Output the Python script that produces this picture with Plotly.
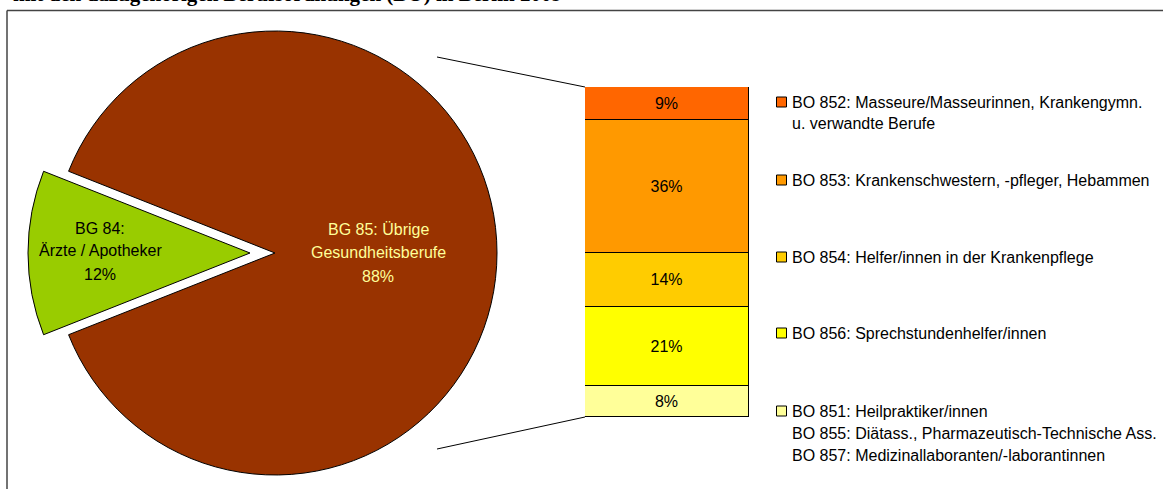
import plotly.graph_objects as go

W, H = 1163, 489

# ---- data ----
pie_labels = ["BG 84: Ärzte / Apotheker", "BG 85: Übrige Gesundheitsberufe"]
pie_values = [12, 88]
pie_colors = ["#99CC00", "#993300"]

bar_labels = ["BO 851/855/857", "BO 856", "BO 854", "BO 853", "BO 852"]  # bottom -> top
bar_values = [8.3, 21.1, 14.3, 35.6, 8.7]
bar_colors = ["#FFFF99", "#FFFF00", "#FFCC00", "#FF9900", "#FF6600"]

legend_texts = [  # top -> bottom
    ["BO 852: Masseure/Masseurinnen, Krankengymn.", "u. verwandte Berufe"],
    ["BO 853: Krankenschwestern, -pfleger, Hebammen"],
    ["BO 854: Helfer/innen in der Krankenpflege"],
    ["BO 856: Sprechstundenhelfer/innen"],
    ["BO 851: Heilpraktiker/innen", "BO 855: Diätass., Pharmazeutisch-Technische Ass.",
     "BO 857: Medizinallaboranten/-laborantinnen"],
]
legend_colors = ["#FF6600", "#FF9900", "#FFCC00", "#FFFF00", "#FFFF99"]

title_text = "mit den dazugehörigen Berufsordnungen (BO) in Berlin 2009"
green_label = ["BG 84:", "Ärzte / Apotheker", "12%"]
brown_label = ["BG 85: Übrige", "Gesundheitsberufe", "88%"]


def px(x):
    return x / W


def py(y):
    return 1 - y / H


FONT = "Liberation Sans, Arial, sans-serif"
fig = go.Figure()

# pie geometry (pixels)
R = 222
CX, CY = 275, 253
PULL_PX = 25
TR = "rgba(0,0,0,0)"

# main (brown) slice
fig.add_trace(go.Pie(
    labels=pie_labels, values=pie_values, sort=False, direction="clockwise",
    rotation=270 - pie_values[0] / sum(pie_values) * 180,
    marker=dict(colors=[TR, pie_colors[1]], line=dict(color=[TR, "#000000"], width=1)),
    textinfo="none", hoverinfo="skip", showlegend=False,
    domain=dict(x=[px(CX - R), px(CX + R)], y=[py(CY + R), py(CY - R)]),
))
# exploded (green) slice
fig.add_trace(go.Pie(
    labels=pie_labels, values=pie_values, sort=False, direction="clockwise",
    rotation=270 - pie_values[0] / sum(pie_values) * 180,
    marker=dict(colors=[pie_colors[0], TR], line=dict(color=["#000000", TR], width=1)),
    textinfo="none", hoverinfo="skip", showlegend=False,
    domain=dict(x=[px(CX - PULL_PX - R), px(CX - PULL_PX + R)], y=[py(CY + R), py(CY - R)]),
))

# stacked bar
for lab, val, col in zip(bar_labels, bar_values, bar_colors):
    fig.add_trace(go.Bar(
        x=[0], y=[val], name=lab, width=1,
        marker=dict(color=col, line=dict(color="#000000", width=1)),
        texttemplate="%{y:.0f}%", textposition="inside", insidetextanchor="middle",
        textangle=0, textfont=dict(family=FONT, size=16, color="#000000"),
        hoverinfo="skip", showlegend=False,
    ))

BAR_X0, BAR_X1, BAR_Y0, BAR_Y1 = 585, 749, 87, 417

shapes = []
# white cover strip at the right page edge
shapes.append(dict(type="rect", xref="paper", yref="paper",
                   x0=px(W - 10), x1=px(W + 10), y0=py(H + 10), y1=py(12),
                   fillcolor="#FFFFFF", line=dict(width=0), layer="above"))
# frame (top and left edges visible; the rest lies outside the page)
shapes.append(dict(type="line", xref="paper", yref="paper",
                   x0=px(7), x1=px(W + 5), y0=py(10.5), y1=py(10.5),
                   line=dict(color="#444444", width=1.5)))
shapes.append(dict(type="line", xref="paper", yref="paper",
                   x0=px(7), x1=px(7), y0=py(10.5), y1=py(H),
                   line=dict(color="#444444", width=1.5)))
# connector lines
shapes.append(dict(type="line", xref="paper", yref="paper",
                   x0=px(437), y0=py(57), x1=px(BAR_X0), y1=py(BAR_Y0),
                   line=dict(color="#000000", width=1)))
shapes.append(dict(type="line", xref="paper", yref="paper",
                   x0=px(437), y0=py(449), x1=px(BAR_X0), y1=py(BAR_Y1),
                   line=dict(color="#000000", width=1)))

annotations = []
# title (cut off at the top like the reference)
annotations.append(dict(text="<b>" + title_text + "</b>", xref="paper", yref="paper",
                        x=px(11), y=py(8.5), xanchor="left", yanchor="bottom", showarrow=False,
                        font=dict(family="Liberation Serif, Times New Roman, serif", size=21,
                                  color="#000000")))
# pie labels
for i, t in enumerate(green_label):
    annotations.append(dict(text=t, xref="paper", yref="paper", x=px(100), y=py(228 + 23 * i),
                            xanchor="center", yanchor="middle", showarrow=False,
                            font=dict(family=FONT, size=16, color="#000000")))
for i, t in enumerate(brown_label):
    annotations.append(dict(text=t, xref="paper", yref="paper", x=px(378), y=py(229 + 23.5 * i),
                            xanchor="center", yanchor="middle", showarrow=False,
                            font=dict(family=FONT, size=16, color="#FFFF99")))

# legend
legend_y = [102, 180, 257, 333, 411]
for ys, lines, col in zip(legend_y, legend_texts, legend_colors):
    shapes.append(dict(type="rect", xref="paper", yref="paper",
                       x0=px(776.5), x1=px(786.5), y0=py(ys + 5), y1=py(ys - 5),
                       fillcolor=col, line=dict(color="#000000", width=1)))
    for j, t in enumerate(lines):
        annotations.append(dict(text=t, xref="paper", yref="paper", x=px(790), y=py(ys + 22 * j),
                                xanchor="left", yanchor="middle", showarrow=False,
                                font=dict(family=FONT, size=16, color="#000000")))

fig.update_layout(
    width=W, height=H, margin=dict(l=0, r=0, t=0, b=0),
    paper_bgcolor="#FFFFFF", plot_bgcolor="rgba(0,0,0,0)",
    barmode="stack", bargap=0, showlegend=False,
    xaxis=dict(domain=[px(BAR_X0), px(BAR_X1)], range=[-0.5, 0.5], visible=False, fixedrange=True),
    yaxis=dict(domain=[py(BAR_Y1), py(BAR_Y0)], range=[0, sum(bar_values)], visible=False,
               fixedrange=True),
    shapes=shapes, annotations=annotations,
)

fig.write_html(
    "out.html",
    config={"displayModeBar": False},
    post_script="document.documentElement.style.margin='0';document.documentElement.style.overflow='hidden';"
                "document.body.style.margin='0';document.body.style.overflow='hidden';",
)
